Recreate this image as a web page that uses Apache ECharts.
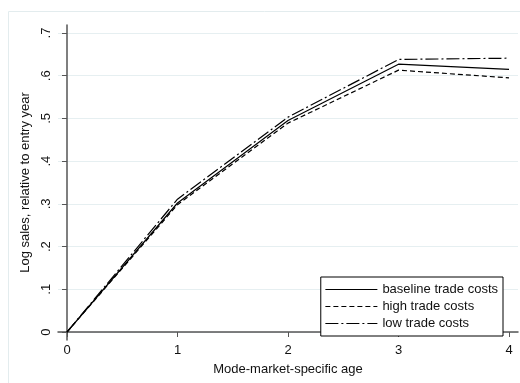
<!DOCTYPE html>
<html>
<head>
<meta charset="utf-8">
<script src="https://cdn.jsdelivr.net/npm/echarts@6/dist/echarts.min.js"></script>
<style>html,body{margin:0;padding:0;background:#fff;}#c{width:520px;height:383px;}</style>
</head>
<body>
<div id="c"></div>
<script>
var ages = [0, 1, 2, 3, 4];
var baseline = [0, 0.302, 0.495, 0.627, 0.615];
var high = [0, 0.298, 0.489, 0.613, 0.595];
var low = [0, 0.311, 0.503, 0.638, 0.641];
var xTicks = [0, 1, 2, 3, 4];
var yTicks = [0, 0.1, 0.2, 0.3, 0.4, 0.5, 0.6, 0.7];
var yTickLabels = ['0', '.1', '.2', '.3', '.4', '.5', '.6', '.7'];

function pairs(vals) { return ages.map(function (a, i) { return [a, vals[i]]; }); }

var chart = echarts.init(document.getElementById('c'), null, {renderer: 'canvas'});
var font = 'Liberation Sans, Arial, sans-serif';
var axisCol = '#555';
chart.setOption({
  animation: false,
  graphic: [{
    type: 'rect', shape: {x: 8.5, y: 11.5, width: 540, height: 400},
    style: {fill: null, stroke: '#e3ecee', lineWidth: 1}, z: -10
  }],
  grid: {left: 58, right: 2, top: 25, bottom: 43},
  xAxis: {
    type: 'value', min: -0.0814, max: 4.0814,
    name: 'Mode-market-specific age', nameLocation: 'middle', nameGap: 23,
    nameTextStyle: {fontFamily: font, fontSize: 13, color: '#111'},
    axisLine: {show: true, lineStyle: {color: axisCol, width: 1.5}},
    axisTick: {show: true, length: 5, customValues: xTicks, lineStyle: {color: axisCol}},
    axisLabel: {customValues: xTicks, fontFamily: font, fontSize: 13, color: '#111', margin: 4},
    splitLine: {show: false}
  },
  yAxis: {
    type: 'value', min: -0.0187, max: 0.7187,
    name: 'Log sales, relative to entry year', nameLocation: 'middle', nameGap: 22,
    nameTextStyle: {fontFamily: font, fontSize: 13, color: '#111'},
    axisLine: {show: true, lineStyle: {color: axisCol, width: 1.5}},
    axisTick: {show: true, length: 5, customValues: yTicks, lineStyle: {color: axisCol}},
    axisLabel: {
      customValues: yTicks, rotate: 90, fontFamily: font, fontSize: 13, color: '#111', margin: 5,
      formatter: function (v) { var i = yTicks.findIndex(function (t) { return Math.abs(t - v) < 1e-6; }); return i >= 0 ? yTickLabels[i] : ''; }
    },
    splitLine: {show: true, lineStyle: {color: '#e6eff1', width: 1.2}}
  },
  legend: {
    right: 17, bottom: 47, orient: 'vertical', itemGap: 4,
    itemWidth: 52, itemHeight: 14,
    itemStyle: {opacity: 0},
    lineStyle: {width: 1.2},
    borderColor: '#000', borderWidth: 1, padding: [6, 5, 6, 4], backgroundColor: '#fff',
    textStyle: {fontFamily: font, fontSize: 13, color: '#111'},
    data: ['baseline trade costs', 'high trade costs', 'low trade costs']
  },
  series: [
    {name: 'baseline trade costs', type: 'line', data: pairs(baseline), symbol: 'none',
     lineStyle: {color: '#000', width: 1.2, type: 'solid'}, itemStyle: {color: '#000'}},
    {name: 'high trade costs', type: 'line', data: pairs(high), symbol: 'none',
     lineStyle: {color: '#000', width: 1.2, type: [5, 3]}, itemStyle: {color: '#000'}},
    {name: 'low trade costs', type: 'line', data: pairs(low), symbol: 'none',
     lineStyle: {color: '#000', width: 1.2, type: [13, 3, 2, 3]}, itemStyle: {color: '#000'}}
  ]
});
</script>
</body>
</html>
